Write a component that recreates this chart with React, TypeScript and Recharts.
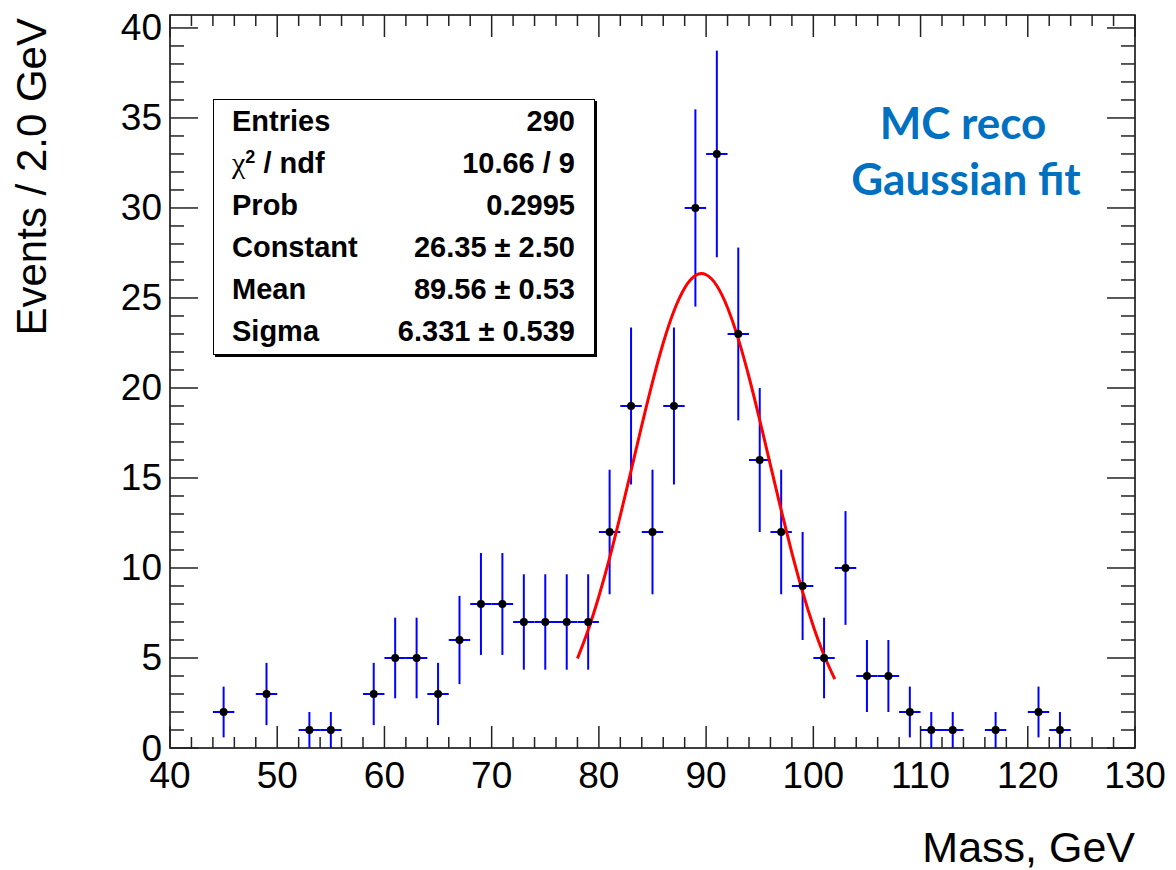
import { ComposedChart, Scatter, Line, XAxis, YAxis, ErrorBar, ReferenceArea } from 'recharts'

// histogram: 2 GeV bins, only non-empty bins are drawn
const binCenters = [45, 49, 53, 55, 59, 61, 63, 65, 67, 69, 71, 73, 75, 77, 79, 81, 83, 85, 87, 89, 91, 93, 95, 97, 99, 101, 103, 105, 107, 109, 111, 113, 117, 121, 123]
const counts = [2, 3, 1, 1, 3, 5, 5, 3, 6, 8, 8, 7, 7, 7, 7, 12, 19, 12, 19, 30, 33, 23, 16, 12, 9, 5, 10, 4, 4, 2, 1, 1, 1, 2, 1]
const countErrors = [1.41, 1.73, 1, 1, 1.73, 2.24, 2.24, 1.73, 2.45, 2.83, 2.83, 2.65, 2.65, 2.65, 2.65, 3.46, 4.36, 3.46, 4.36, 5.48, 5.74, 4.8, 4, 3.46, 3, 2.24, 3.16, 2, 2, 1.41, 1, 1, 1, 1.41, 1]
const binHalfWidth = 1

// gaussian fit curve
const fitX = [78, 79, 80, 81, 82, 83, 84, 85, 86, 87, 88, 89, 90, 91, 92, 93, 94, 95, 96, 97, 98, 99, 100, 101, 102]
const fitY = [4.97, 6.56, 8.43, 10.56, 12.92, 15.4, 17.92, 20.33, 22.5, 24.28, 25.56, 26.25, 26.29, 25.68, 24.46, 22.73, 20.61, 18.22, 15.71, 13.21, 10.84, 8.67, 6.76, 5.15, 3.82]

const xMajorTicks = [40, 50, 60, 70, 80, 90, 100, 110, 120, 130]
const yMajorTicks = [0, 5, 10, 15, 20, 25, 30, 35, 40]
const X_DIVISIONS = 5
const Y_DIVISIONS = 5
const Y_MAX = 40.72

const statsRows = [
  { label: 'Entries', value: '290' },
  { label: 'chi2', value: '10.66 / 9' },
  { label: 'Prob', value: '0.2995' },
  { label: 'Constant', value: '26.35 \u00b1 2.50' },
  { label: 'Mean', value: '89.56 \u00b1 0.53' },
  { label: 'Sigma', value: '6.331 \u00b1 0.539' },
]

const W = 1176
const H = 870
const PLOT_TOP = 15
const PLOT_BOTTOM = 748
const PLOT_LEFT = 170
const PLOT_RIGHT = 1135
const FONT = '"Liberation Sans", Arial, Helvetica, sans-serif'
const TICK_COLOR = '#222'

function subdivide(majors: number[], n: number) {
  const out: number[] = []
  for (let i = 0; i < majors.length - 1; i++) {
    const step = (majors[i + 1] - majors[i]) / n
    for (let k = 0; k < n; k++) out.push(majors[i] + k * step)
  }
  out.push(majors[majors.length - 1])
  return out
}

const xTicks = subdivide(xMajorTicks, X_DIVISIONS)
const yTicks = subdivide(yMajorTicks, Y_DIVISIONS)

const points = binCenters.map((x, i) => ({ x, y: counts[i], ey: countErrors[i], ex: binHalfWidth }))
const fitData = fitX.map((x, i) => ({ x, fit: fitY[i] }))

function XTick(props: any) {
  const { x, payload } = props
  const major = xMajorTicks.includes(payload.value)
  const len = major ? 22 : 11
  return (
    <g>
      <line x1={x} y1={PLOT_BOTTOM} x2={x} y2={PLOT_BOTTOM - len} stroke={TICK_COLOR} strokeWidth={1.5} />
      <line x1={x} y1={PLOT_TOP} x2={x} y2={PLOT_TOP + len} stroke={TICK_COLOR} strokeWidth={1.5} />
      {major && (
        <text x={x} y={PLOT_BOTTOM + 40} textAnchor="middle" fontFamily={FONT} fontSize={37} fill="#000">
          {payload.value}
        </text>
      )}
    </g>
  )
}

function YTick(props: any) {
  const { y, payload } = props
  const major = yMajorTicks.includes(payload.value)
  const len = major ? 28 : 14
  return (
    <g>
      <line x1={PLOT_LEFT} y1={y} x2={PLOT_LEFT + len} y2={y} stroke={TICK_COLOR} strokeWidth={1.5} />
      <line x1={PLOT_RIGHT} y1={y} x2={PLOT_RIGHT - len} y2={y} stroke={TICK_COLOR} strokeWidth={1.5} />
      {major && (
        <text x={PLOT_LEFT - 8} y={y} textAnchor="end" dominantBaseline="central" fontFamily={FONT} fontSize={37} fill="#000">
          {payload.value}
        </text>
      )}
    </g>
  )
}

function Dot(props: any) {
  const { cx, cy } = props
  return <circle cx={cx} cy={cy} r={4} fill="#000" />
}

function StatsBox() {
  return (
    <div
      style={{
        position: 'absolute',
        left: 213,
        top: 99,
        width: 382,
        height: 256,
        boxSizing: 'border-box',
        border: '1.5px solid #000',
        boxShadow: '2px 2px 0 #000',
        background: '#fff',
        fontFamily: FONT,
        fontWeight: 'bold',
        fontSize: 29,
        color: '#000',
      }}
    >
      {statsRows.map((r) => (
        <div
          key={r.label}
          style={{
            height: 253 / 6,
            display: 'flex',
            alignItems: 'center',
            justifyContent: 'space-between',
            padding: '0 19px 0 18px',
            whiteSpace: 'pre',
          }}
        >
          <span>
            {r.label === 'chi2' ? (
              <>
                <span style={{ fontFamily: '"Liberation Serif", serif', fontWeight: 'normal', fontSize: 30 }}>χ</span>
                <sup style={{ fontSize: 18, verticalAlign: 10 }}>2</sup> / ndf
              </>
            ) : (
              r.label
            )}
          </span>
          <span>{r.value}</span>
        </div>
      ))}
    </div>
  )
}

export default function App() {
  return (
    <div style={{ position: 'absolute', left: 0, top: 0, width: W, height: H, background: '#fff' }}>
      <ComposedChart
        width={W}
        height={H}
        margin={{ top: PLOT_TOP, right: W - PLOT_RIGHT, bottom: 0, left: 0 }}
      >
        <XAxis
          type="number"
          dataKey="x"
          domain={[40, 130]}
          ticks={xTicks}
          interval={0}
          allowDataOverflow
          axisLine={false}
          tickLine={false}
          tickSize={0}
          tickMargin={0}
          height={H - PLOT_BOTTOM}
          tick={<XTick />}
        />
        <YAxis
          type="number"
          domain={[0, Y_MAX]}
          ticks={yTicks}
          interval={0}
          allowDataOverflow
          axisLine={false}
          tickLine={false}
          tickSize={0}
          tickMargin={0}
          width={PLOT_LEFT}
          tick={<YTick />}
        />
        <ReferenceArea x1={40} x2={130} y1={0} y2={Y_MAX} fill="none" fillOpacity={0} stroke="#000" strokeWidth={1.5} />
        <Scatter data={points} dataKey="y" shape={<Dot />} isAnimationActive={false}>
          <ErrorBar dataKey="ey" direction="y" width={0} stroke="#0000ff" strokeWidth={2} />
          <ErrorBar dataKey="ex" direction="x" width={0} stroke="#0000ff" strokeWidth={2} />
        </Scatter>
        <Line
          data={fitData}
          dataKey="fit"
          type="natural"
          stroke="#ff0000"
          strokeWidth={3}
          dot={false}
          activeDot={false}
          isAnimationActive={false}
        />
      </ComposedChart>

      <svg width={W} height={H} style={{ position: 'absolute', left: 0, top: 0, pointerEvents: 'none' }}>
        <text
          transform="translate(46, 18) rotate(-90)"
          textAnchor="end"
          fontFamily={FONT}
          fontSize={42}
          fill="#000"
        >
          Events / 2.0 GeV
        </text>
        <text x={PLOT_RIGHT} y={862} textAnchor="end" fontFamily={FONT} fontSize={43} fill="#000">
          Mass, GeV
        </text>
        <text x={963} y={139} textAnchor="middle" fontFamily="Lato, 'Open Sans', sans-serif" fontWeight="bold" fontSize={44} fill="#0070c0">
          MC reco
        </text>
        <text x={966} y={195} textAnchor="middle" fontFamily="Lato, 'Open Sans', sans-serif" fontWeight="bold" fontSize={44} fill="#0070c0">
          Gaussian fit
        </text>
      </svg>

      <StatsBox />
    </div>
  )
}
